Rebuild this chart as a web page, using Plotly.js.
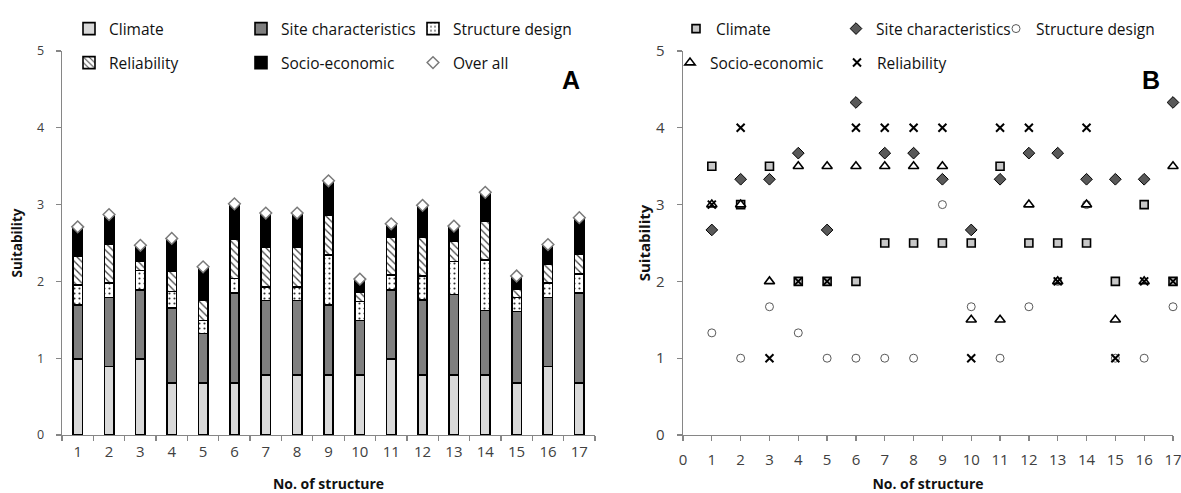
<!DOCTYPE html>
<html><head><meta charset="utf-8">
<script src="https://cdn.plot.ly/plotly-3.0.1.min.js"></script>
<style>html,body{margin:0;padding:0;background:#fff}#chart{width:1181px;height:493px}</style>
</head><body><div id="chart"></div>
<script>
// ---- Panel A (weighted suitability, stacked) ----
const structures = ['1','2','3','4','5','6','7','8','9','10','11','12','13','14','15','16','17'];
const climateA     = [0.99,0.89,0.99,0.68,0.68,0.68,0.78,0.78,0.78,0.78,0.99,0.78,0.78,0.78,0.68,0.89,0.68];
const siteA        = [0.70,0.90,0.90,0.97,0.64,1.17,0.97,0.97,0.91,0.71,0.90,0.98,1.05,0.84,0.93,0.90,1.17];
const designA      = [0.26,0.19,0.25,0.22,0.17,0.19,0.18,0.18,0.65,0.25,0.19,0.31,0.43,0.66,0.18,0.19,0.25];
const reliabilityA = [0.38,0.51,0.12,0.26,0.26,0.51,0.51,0.51,0.52,0.12,0.50,0.50,0.26,0.51,0.11,0.25,0.25];
const socioA       = [0.38,0.38,0.21,0.43,0.44,0.46,0.45,0.45,0.45,0.17,0.17,0.42,0.20,0.37,0.17,0.25,0.48];
const overallA     = [2.71,2.87,2.47,2.56,2.19,3.01,2.89,2.89,3.31,2.03,2.75,2.99,2.72,3.16,2.07,2.48,2.83];

// ---- Panel B (criterion scores) ----
const structureNo  = [1,2,3,4,5,6,7,8,9,10,11,12,13,14,15,16,17];
const xTicksB      = [0,1,2,3,4,5,6,7,8,9,10,11,12,13,14,15,16,17];
const climateB     = [3.5,3,3.5,2,2,2,2.5,2.5,2.5,2.5,3.5,2.5,2.5,2.5,2,3,2];
const siteB        = [2.67,3.33,3.33,3.67,2.67,4.33,3.67,3.67,3.33,2.67,3.33,3.67,3.67,3.33,3.33,3.33,4.33];
const designB      = [1.33,1,1.67,1.33,1,1,1,1,3,1.67,1,1.67,2,3,1,1,1.67];
const socioB       = [3,3,2,3.5,3.5,3.5,3.5,3.5,3.5,1.5,1.5,3,2,3,1.5,2,3.5];
const reliabilityB = [3,4,1,2,2,4,4,4,4,1,4,4,2,4,1,2,2];

const W = 1181, H = 493;
const barLine = {color:'#000', width:1.6};
function bar(name, y, marker, legend){
  return {type:'bar', name:name, x:structures, y:y, xaxis:'x', yaxis:'y', legend:legend,
          marker:Object.assign({line:barLine}, marker), hoverinfo:'y+name'};
}
function pts(name, y, marker, legend){
  return {type:'scatter', mode:'markers', name:name, x:structureNo, y:y, xaxis:'x2', yaxis:'y2',
          legend:legend, cliponaxis:false, marker:marker};
}
const traces = [
  bar('Climate', climateA, {color:'#d9d9d9'}, 'legend'),
  bar('Site characteristics', siteA, {color:'#7f7f7f'}, 'legend'),
  bar('Structure design', designA, {color:'#ffffff', pattern:{shape:'.', fgcolor:'#333', bgcolor:'#fff', size:5, solidity:0.15}}, 'legend'),
  bar('Reliability', reliabilityA, {color:'#ffffff', pattern:{shape:'\\', fgcolor:'#444', bgcolor:'#fff', size:5, solidity:0.25}}, 'legend2'),
  bar('Socio-economic', socioA, {color:'#000000'}, 'legend2'),
  {type:'scatter', mode:'markers', name:'Over all', x:structures, y:overallA, xaxis:'x', yaxis:'y', legend:'legend2',
   cliponaxis:false, marker:{symbol:'diamond', size:9, color:'#ffffff', line:{color:'#7a7a7a', width:1.5}}},
  pts('Climate', climateB, {symbol:'square', size:8, color:'#c8c8c8', line:{color:'#000', width:1.6}}, 'legend3'),
  pts('Site characteristics', siteB, {symbol:'diamond', size:9, color:'#595959', line:{color:'#000', width:1}}, 'legend3'),
  pts('Structure design', designB, {symbol:'circle', size:8, color:'#ffffff', line:{color:'#595959', width:1}}, 'legend3'),
  pts('Socio-economic', socioB, {symbol:'triangle-up', size:9, color:'#ffffff', line:{color:'#000', width:1.6}}, 'legend4'),
  pts('Reliability', reliabilityB, {symbol:'x-thin', size:8, color:'#000', line:{color:'#000', width:2}}, 'legend4')
];

const axisCommon = {showline:true, linecolor:'#868686', linewidth:1.3, ticks:'outside', ticklen:5,
  tickcolor:'#868686', tickwidth:1.3, showgrid:false, zeroline:false, automargin:false, ticklabeloverflow:'allow'};
const yDom = [58/H, 442/H];
const legFont = {family:'Open Sans, sans-serif', size:15.5, color:'#111'};
function leg(x, yPx, ew){
  return {orientation:'h', x:x/W, xanchor:'left', y:1 - yPx/H, yanchor:'middle', entrywidth:ew,
          entrywidthmode:'pixels', bgcolor:'rgba(0,0,0,0)', font:legFont, traceorder:'normal', itemclick:false};
}
const layout = {
  width:W, height:H, margin:{l:0, r:0, t:0, b:0},
  paper_bgcolor:'#fff', plot_bgcolor:'#fff',
  font:{family:'Open Sans, sans-serif', color:'#404040'},
  barmode:'stack', bargap:0.7, showlegend:true,
  xaxis:Object.assign({}, axisCommon, {domain:[62/W, 595/W], anchor:'y', type:'category', tickson:'boundaries',
    range:[-0.5,16.5], tickfont:{size:15, color:'#404040'}, ticklabelstandoff:3,
    title:{text:'<b>No. of structure</b>', font:{size:14, color:'#111'}, standoff:20}}),
  yaxis:Object.assign({}, axisCommon, {domain:yDom, anchor:'x', range:[0,5], dtick:1, tickfont:{size:12.5, color:'#404040'},
    ticklabelstandoff:9,
    title:{text:'<b>Suitability</b>', font:{size:13.5, color:'#111'}, standoff:11}}),
  xaxis2:Object.assign({}, axisCommon, {domain:[683/W, 1173/W], anchor:'y2', range:[0,17.0001],
    tickmode:'array', tickvals:xTicksB, ticktext:xTicksB.map(String), ticklabelstandoff:6,
    tickfont:{size:15, color:'#404040'},
    title:{text:'<b>No. of structure</b>', font:{size:14, color:'#111'}, standoff:24}}),
  yaxis2:Object.assign({}, axisCommon, {domain:yDom, anchor:'x2', range:[0,5], dtick:1, tickfont:{size:15, color:'#404040'},
    ticklabelstandoff:9,
    title:{text:'<b>Suitability</b>', font:{size:15, color:'#111'}, standoff:2}}),
  legend:leg(69, 29, 127),
  legend2:leg(69, 63, 127),
  legend3:leg(676, 29, 115),
  legend4:leg(670, 63, 122),
  annotations:[
    {text:'<b>A</b>', x:571/W, y:1-64/H, xref:'paper', yref:'paper', showarrow:false,
     font:{family:'Liberation Sans, Arial, sans-serif', size:25, color:'#000'}},
    {text:'<b>B</b>', x:1162/W, y:1-64/H, xref:'paper', yref:'paper', showarrow:false,
     font:{family:'Liberation Sans, Arial, sans-serif', size:25, color:'#000'}}
  ]
};
Plotly.newPlot('chart', traces, layout, {displayModeBar:false, staticPlot:true});
</script></body></html>
